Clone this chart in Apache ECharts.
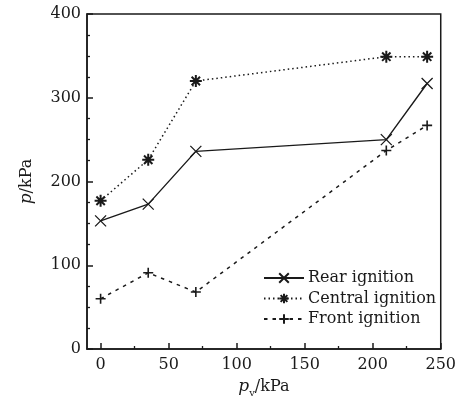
<!DOCTYPE html>
<html>
<head>
<meta charset="utf-8">
<script src="https://cdn.jsdelivr.net/npm/echarts@6/dist/echarts.min.js"></script>
<style>html,body{margin:0;padding:0;background:#fff}#c{width:459px;height:403px}</style>
</head>
<body>
<div id="c"></div>
<script>
var xValues = [0, 35, 70, 210, 240];
var rearIgnition = [153, 173, 236, 250, 317];
var centralIgnition = [177, 226, 320, 349, 349];
var frontIgnition = [60, 91, 68, 237, 267];
var xTickLabels = [0, 50, 100, 150, 200, 250];
var xMinorTicks = [25, 75, 125, 175, 225];
var seriesNames = ['Rear ignition', 'Central ignition', 'Front ignition'];

var FONT = '"DejaVu Serif", "Liberation Serif", serif';
var INK = '#1a1a1a';
function pairs(ys) { return xValues.map(function (x, i) { return [x, ys[i]]; }); }

var crossPath = 'path://M0,0L10,10M10,0L0,10';
var starPath = 'path://M5,0L5,10M0,5L10,5M1.5,1.5L8.5,8.5M8.5,1.5L1.5,8.5';
var plusPath = 'path://M5,0L5,10M0,5L10,5';

var chart = echarts.init(document.getElementById('c'), null, {renderer: 'canvas'});
chart.setOption({
  animation: false,
  backgroundColor: '#fff',
  grid: {left: 87, right: 13, top: 14, bottom: 52, show: true, borderColor: INK, borderWidth: 1.5, backgroundColor: 'transparent'},
  legend: {
    orient: 'vertical', left: 258, top: 265,
    itemWidth: 40, itemHeight: 12, itemGap: 4.5,
    textStyle: {fontFamily: FONT, fontSize: 16, color: INK, padding: [0,0,0,-1]},
    data: seriesNames
  },
  xAxis: [{
    type: 'value', min: -10, max: 250,
    axisLine: {onZero: false, lineStyle: {color: INK, width: 1.5}},
    axisTick: {inside: true, length: 6, lineStyle: {color: INK, width: 1.5}, customValues: xTickLabels},
    axisLabel: {fontFamily: FONT, fontSize: 16, color: INK, margin: 8, customValues: xTickLabels},
    splitLine: {show: false},
    name: '{i|p}{s|v}{n|/kPa}', nameLocation: 'middle', nameGap: 27,
    nameTextStyle: {
      rich: {
        i: {fontFamily: FONT, fontStyle: 'italic', fontSize: 17, color: INK, lineHeight: 22},
        s: {fontFamily: FONT, fontSize: 10, color: INK, verticalAlign: 'bottom', lineHeight: 14},
        n: {fontFamily: FONT, fontSize: 16, color: INK, lineHeight: 22}
      }
    }
  }, {
    type: 'value', min: -10, max: 250, position: 'bottom',
    axisLine: {show: false, onZero: false},
    axisTick: {inside: true, length: 3, lineStyle: {color: INK, width: 1.3}, customValues: xMinorTicks},
    axisLabel: {show: false},
    splitLine: {show: false}
  }],
  yAxis: {
    type: 'value', min: 0, max: 400, interval: 100,
    axisLine: {show: true, onZero: false, lineStyle: {color: INK, width: 1.5}},
    axisTick: {show: true, inside: true, length: 6, lineStyle: {color: INK, width: 1.5}},
    minorTick: {show: true, splitNumber: 4, length: 3, lineStyle: {color: INK, width: 1.3}},
    axisLabel: {fontFamily: FONT, fontSize: 16, color: INK, margin: 6},
    splitLine: {show: false},
    name: '{i|p}{n|/kPa}', nameLocation: 'middle', nameGap: 52,
    nameTextStyle: {
      rich: {
        i: {fontFamily: FONT, fontStyle: 'italic', fontSize: 17, color: INK},
        n: {fontFamily: FONT, fontSize: 16, color: INK}
      }
    }
  },
  series: [{
    name: seriesNames[0], type: 'line', data: pairs(rearIgnition),
    symbol: crossPath, symbolSize: 11,
    lineStyle: {color: INK, width: 1.4, type: 'solid'},
    itemStyle: {color: 'rgba(0,0,0,0)', borderColor: INK, borderWidth: 1.3}
  }, {
    name: seriesNames[1], type: 'line', data: pairs(centralIgnition),
    symbol: starPath, symbolSize: 12,
    lineStyle: {color: INK, width: 1.5, type: [1.5, 3]},
    itemStyle: {color: 'rgba(0,0,0,0)', borderColor: INK, borderWidth: 2}
  }, {
    name: seriesNames[2], type: 'line', data: pairs(frontIgnition),
    symbol: plusPath, symbolSize: 10,
    lineStyle: {color: INK, width: 1.5, type: [3.5, 5]},
    itemStyle: {color: 'rgba(0,0,0,0)', borderColor: INK, borderWidth: 1.6}
  }]
});
</script>
</body>
</html>
